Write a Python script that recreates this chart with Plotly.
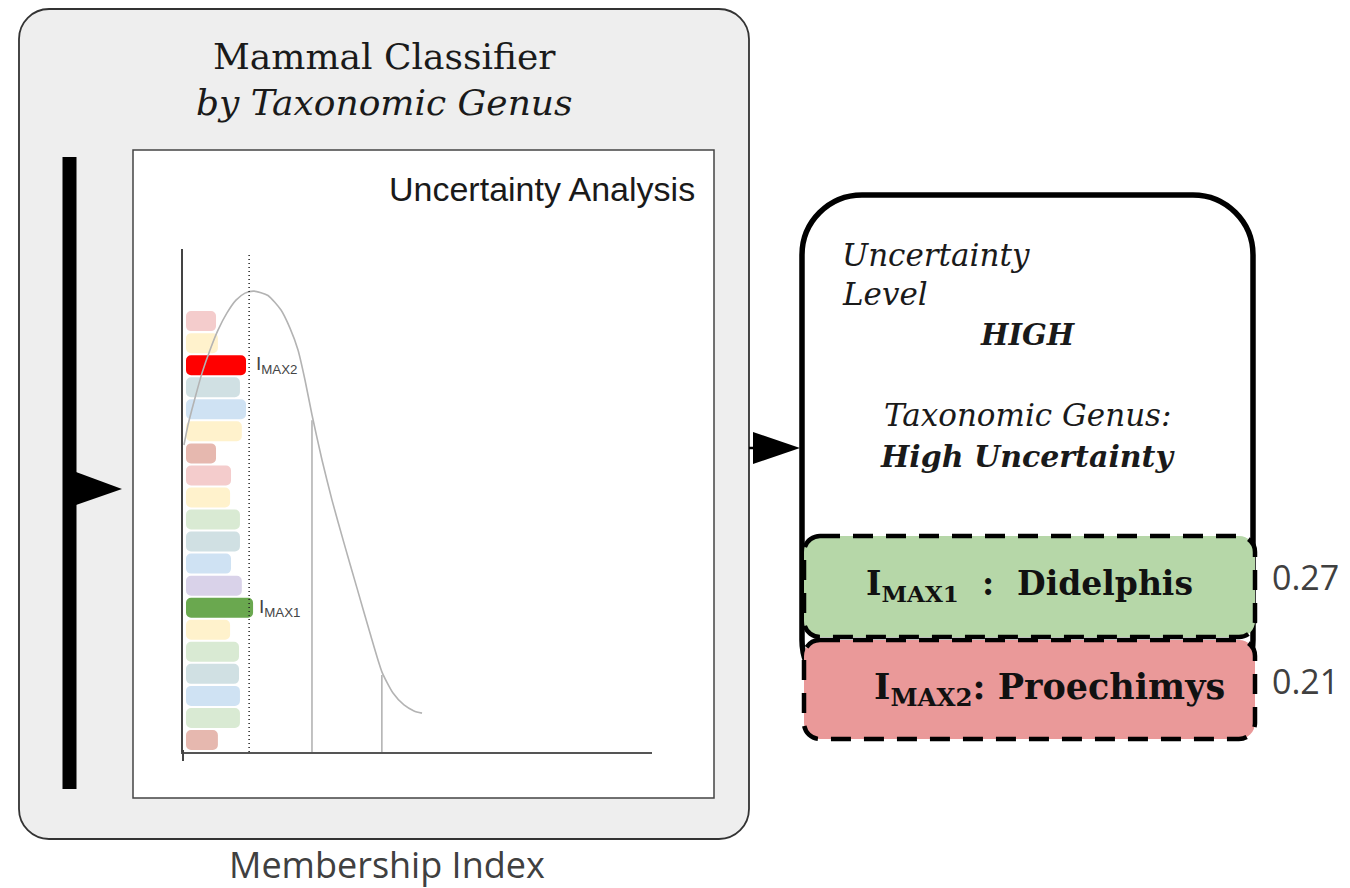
import plotly.graph_objects as go

W, H = 1350, 888

# ---------------- data ----------------
bar_positions = list(range(20, 0, -1))  # top to bottom
bar_values = [0.064, 0.068, 0.128, 0.115, 0.128, 0.119, 0.064, 0.096, 0.094, 0.115,
              0.115, 0.096, 0.119, 0.143, 0.094, 0.113, 0.113, 0.115, 0.115, 0.068]
bar_colors = ["#f4cccc", "#fff2cc", "#ff0000", "#d0e0e3", "#cfe2f3", "#fff2cc", "#e6b8af",
              "#f4cccc", "#fff2cc", "#d9ead3", "#d0e0e3", "#cfe2f3", "#d9d2e9", "#6aa84f",
              "#fff2cc", "#d9ead3", "#d0e0e3", "#cfe2f3", "#d9ead3", "#e6b8af"]
bar_base = 0.0064

curve_x = [0.0021, 0.0107, 0.0256, 0.0405, 0.0576, 0.0746, 0.0938, 0.1130, 0.1322, 0.1514,
           0.1812, 0.2090, 0.2281, 0.2452, 0.2601, 0.2751, 0.2964, 0.3177, 0.3433, 0.3710,
           0.3987, 0.4243, 0.4478, 0.4712, 0.4925, 0.5096]
curve_y = [14.38, 15.29, 16.51, 17.64, 18.69, 19.59, 20.37, 20.95, 21.27, 21.36,
           21.16, 20.50, 19.68, 18.69, 17.33, 15.74, 13.70, 11.88, 9.93, 7.89,
           5.85, 4.08, 3.13, 2.59, 2.32, 2.22]

threshold_x = 0.141
threshold_top = 23.13
cut_lines_x = [0.275, 0.424]
cut_lines_top = [15.5, 3.95]

imax1_label = ("I<sub>MAX1</sub>", 7)
imax2_label = ("I<sub>MAX2</sub>", 18)

top_genera = ["Didelphis", "Proechimys"]
top_scores = ["0.27", "0.21"]

Y_MIN, Y_MAX = 0.456, 23.27

# ---------------- helpers ----------------
def X(px):
    return px / W

def Y(py):
    return 1 - py / H

def rrect_path(x0, y0, x1, y1, r):
    k = 0.5523 * r
    pts = [
        ("M", [(x0 + r, y0)]),
        ("L", [(x1 - r, y0)]),
        ("C", [(x1 - r + k, y0), (x1, y0 + r - k), (x1, y0 + r)]),
        ("L", [(x1, y1 - r)]),
        ("C", [(x1, y1 - r + k), (x1 - r + k, y1), (x1 - r, y1)]),
        ("L", [(x0 + r, y1)]),
        ("C", [(x0 + r - k, y1), (x0, y1 - r + k), (x0, y1 - r)]),
        ("L", [(x0, y0 + r)]),
        ("C", [(x0, y0 + r - k), (x0 + r - k, y0), (x0 + r, y0)]),
    ]
    s = ""
    for cmd, ps in pts:
        s += cmd + " ".join(f"{X(a):.5f},{Y(b):.5f}" for a, b in ps) + " "
    return s + "Z"

def poly_path(points):
    s = "M" + " L".join(f"{X(a):.5f},{Y(b):.5f}" for a, b in points)
    return s + " Z"

# ---------------- traces ----------------
fig = go.Figure()

fig.add_trace(go.Bar(
    x=bar_values, y=bar_positions, base=bar_base, orientation="h",
    width=0.907, marker=dict(color=bar_colors, line=dict(width=0)),
    hoverinfo="skip", showlegend=False,
))

fig.add_trace(go.Scatter(
    x=curve_x, y=curve_y, mode="lines",
    line=dict(color="#b3b3b3", width=1.6, shape="spline", smoothing=0.6),
    hoverinfo="skip", showlegend=False,
))

for cx, ct in zip(cut_lines_x, cut_lines_top):
    fig.add_trace(go.Scatter(
        x=[cx, cx], y=[Y_MIN, ct], mode="lines",
        line=dict(color="#b3b3b3", width=1.6),
        hoverinfo="skip", showlegend=False,
    ))

fig.add_trace(go.Scatter(
    x=[threshold_x, threshold_x], y=[Y_MIN, threshold_top], mode="lines",
    line=dict(color="#222222", width=1.5, dash="1px,3px"),
    hoverinfo="skip", showlegend=False,
))

# ---------------- shapes ----------------
shapes = []
shapes.append(dict(type="path", path=rrect_path(19, 9, 749, 839, 30), xref="paper", yref="paper",
                   fillcolor="#eeeeee", line=dict(color="#333333", width=1.8), layer="below"))
shapes.append(dict(type="rect", x0=X(133), x1=X(714), y0=Y(150), y1=Y(798), xref="paper", yref="paper",
                   fillcolor="white", line=dict(color="#444444", width=1.5), layer="below"))
shapes.append(dict(type="line", x0=X(183), x1=X(183), y0=Y(750), y1=Y(761), xref="paper", yref="paper",
                   line=dict(color="#444444", width=2)))
shapes.append(dict(type="line", x0=X(69.5), x1=X(69.5), y0=Y(157), y1=Y(789), xref="paper", yref="paper",
                   line=dict(color="black", width=14)))
shapes.append(dict(type="path", path=poly_path([(76, 472), (122, 489), (76, 505)]), xref="paper", yref="paper",
                   fillcolor="black", line=dict(width=0)))
shapes.append(dict(type="line", x0=X(749), x1=X(755), y0=Y(448), y1=Y(448), xref="paper", yref="paper",
                   line=dict(color="black", width=2.5)))
shapes.append(dict(type="path", path=poly_path([(753, 432), (800, 448), (753, 464)]), xref="paper", yref="paper",
                   fillcolor="black", line=dict(width=0)))
shapes.append(dict(type="path", path=rrect_path(802, 195, 1253, 700, 60), xref="paper", yref="paper",
                   fillcolor="white", line=dict(color="black", width=5.5)))
shapes.append(dict(type="path", path=rrect_path(804, 536, 1255, 637, 16), xref="paper", yref="paper",
                   fillcolor="#b6d7a8", line=dict(color="black", width=4.5, dash="20px,13px")))
shapes.append(dict(type="path", path=rrect_path(804, 640, 1255, 739, 16), xref="paper", yref="paper",
                   fillcolor="#ea9999", line=dict(color="black", width=4.5, dash="20px,13px")))

# ---------------- annotations ----------------
serif = "DejaVu Serif"
sans = "Liberation Sans"
anns = []

def ann(text, x, y, size, family, color="#111111", xanchor="center", yanchor="middle", xref="paper", yref="paper"):
    anns.append(dict(text=text, x=x, y=y, xref=xref, yref=yref, showarrow=False,
                     xanchor=xanchor, yanchor=yanchor, font=dict(size=size, family=family, color=color)))

ann("Mammal Classifier", X(384), Y(57), 36, serif, "#1a1a1a")
ann("<i>by Taxonomic Genus</i>", X(384), Y(103), 36, serif, "#1a1a1a")
ann("Uncertainty Analysis", X(697), Y(189), 34, sans, "#1a1a1a", xanchor="right")
ann("Membership Index", X(387), Y(864), 36, "Open Sans", "#404040")

ann(imax2_label[0], 0.152, imax2_label[1], 19, sans, "#444444", xanchor="left", xref="x", yref="y")
ann(imax1_label[0], 0.157, imax1_label[1], 19, sans, "#444444", xanchor="left", xref="x", yref="y")

ann("<i>Uncertainty</i>", X(840), Y(255), 31, serif, "#1a1a1a", xanchor="left")
ann("<i>Level</i>", X(840), Y(294), 31, serif, "#1a1a1a", xanchor="left")
ann("<b><i>HIGH</i></b>", X(1028), Y(335), 29, serif, "#1a1a1a")
ann("<i>Taxonomic Genus:</i>", X(1027), Y(415), 31, serif, "#1a1a1a")
ann("<b><i>High Uncertainty</i></b>", X(1027), Y(456), 30, serif, "#1a1a1a")

ann(f"<b>I<sub>MAX1</sub>  :  {top_genera[0]}</b>", X(1029), Y(585), 33, serif, "#111111")
ann(f"<b>I<sub>MAX2</sub>: {top_genera[1]}</b>", X(1049), Y(689), 35, serif, "#111111")
ann(top_scores[0], X(1270), Y(577), 34, "Open Sans", "#404040", xanchor="left")
ann(top_scores[1], X(1270), Y(681), 34, "Open Sans", "#404040", xanchor="left")

fig.update_layout(
    width=W, height=H,
    margin=dict(l=0, r=0, t=0, b=0),
    paper_bgcolor="white", plot_bgcolor="rgba(0,0,0,0)",
    barcornerradius=5,
    shapes=shapes, annotations=anns,
    showlegend=False,
    xaxis=dict(domain=[X(183), X(652)], range=[0, 1], showline=True, linecolor="#555555", linewidth=2,
               showgrid=False, zeroline=False, showticklabels=False, ticks="", fixedrange=True),
    yaxis=dict(domain=[Y(752), Y(249)], range=[Y_MIN, Y_MAX], showline=True, linecolor="#444444", linewidth=2,
               showgrid=False, zeroline=False, showticklabels=False, ticks="", fixedrange=True),
)

fig.write_html("out.html", config={"displayModeBar": False},
               post_script="document.body.style.margin='0';document.body.style.overflow='hidden';")
